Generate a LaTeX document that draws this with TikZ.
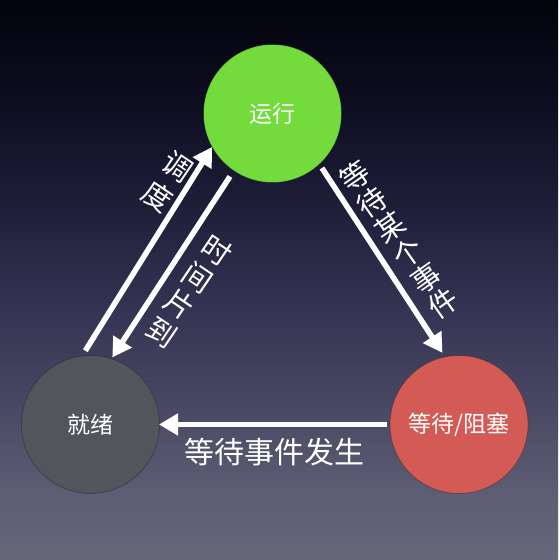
\documentclass[tikz,border=0pt]{standalone}
\usepackage{fontspec}
\newfontfamily\cjk{Noto Sans CJK SC}
\usetikzlibrary{arrows.meta,calc}

% background ramp, dark navy at the top to slate at the bottom
\definecolor{bgA}{RGB}{103,103,122}
\definecolor{bgB}{RGB}{94,94,116}
\definecolor{bgC}{RGB}{72,71,99}
\definecolor{bgD}{RGB}{50,49,80}
\definecolor{bgE}{RGB}{30,29,56}
\definecolor{bgF}{RGB}{13,13,32}
\definecolor{bgG}{RGB}{3,3,12}
\pgfdeclareverticalshading{bgshade}{100bp}{%
  color(0bp)=(bgA); color(25bp)=(bgA); color(30.4bp)=(bgB);
  color(39.3bp)=(bgC); color(48.2bp)=(bgD); color(57.1bp)=(bgE);
  color(66.1bp)=(bgF); color(75bp)=(bgG); color(100bp)=(bgG)}

% state colours
\definecolor{runcol}{RGB}{115,219,60}
\definecolor{readycol}{RGB}{82,86,92}
\definecolor{waitcol}{RGB}{211,90,85}

\begin{document}
\begin{tikzpicture}[x=1pt,y=1pt,
  state/.style={circle, minimum size=138pt, inner sep=0pt, text=white,
    font=\cjk\fontsize{23}{23}\selectfont,
    draw=black, draw opacity=0.25, line width=0.8pt},
  flow/.style={draw=white, line width=5.5pt,
    -{Triangle[length=19pt,width=21pt]}},
  lbl/.style={text=white, inner sep=0pt,
    font=\cjk\fontsize{30}{30}\selectfont},
  % a column of upright characters, tilted along its arrow
  column/.style 2 args={text=white, inner sep=0pt, align=center,
    rotate=#1, font=\cjk\fontsize{29}{#2}\selectfont}]

\shade[shading=bgshade] (0,0) rectangle (558,560);
\useasboundingbox (0,0) rectangle (558,560);

% the three process states
\node[state, fill=runcol]   (run)   at (272.5,446.5) {运行};
\node[state, fill=readycol] (ready) at (90.5,135.5)  {就绪};
\node[state, fill=waitcol]  (wait)  at (459,135.5)   {等待/阻塞};

% arrow end points just off the circles
\coordinate (upS) at ($(ready)+(94:74)$);
\coordinate (upE) at ($(run)+(209:69)$);
\coordinate (dnS) at ($(run)+(236:76)$);
\coordinate (dnE) at ($(ready)+(72:70.5)$);
\coordinate (rtS) at ($(run)+(-47.8:73.6)$);
\coordinate (rtE) at ($(wait)+(103:73.5)$);
\coordinate (hzS) at ($(wait)+(180:72)$);
\coordinate (hzE) at ($(ready)+(0:68.5)$);

% transitions
\draw[flow] (upS) -- (upE);
\draw[flow] (dnS) -- (dnE);
\draw[flow] (rtS) -- (rtE);
\draw[flow] (hzS) -- (hzE);

% transition labels
\node[column={-34}{36}] (lsched) at (167.5,378) {调\\度};
\node[column={-34}{33}] (lslice) at (189,269)   {时\\间\\片\\到};
\node[column={35}{31}]  (lwait)  at (399,320)   {等\\待\\某\\个\\事\\件};
\node[lbl]              (lwake)  at (274,108)   {等待事件发生};
\end{tikzpicture}
\end{document}
